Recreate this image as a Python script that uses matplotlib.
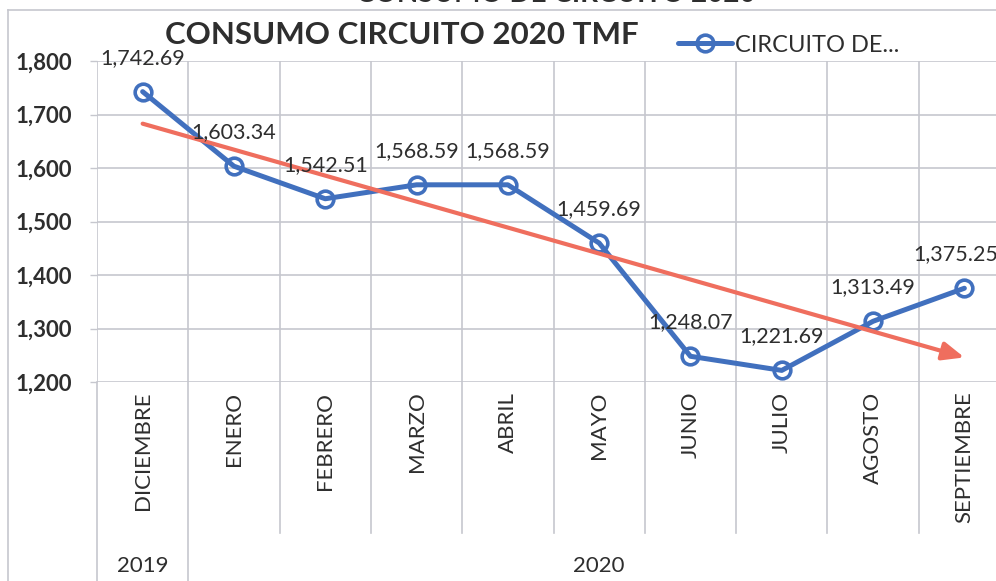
import numpy as np
import matplotlib
matplotlib.use("Agg")
import matplotlib.pyplot as plt
import matplotlib.transforms as mtransforms
from matplotlib.lines import Line2D
from matplotlib.ticker import StrMethodFormatter

plt.rcParams['font.family'] = ['Lato', 'DejaVu Sans']

# data
months = ['DICIEMBRE', 'ENERO', 'FEBRERO', 'MARZO', 'ABRIL', 'MAYO',
          'JUNIO', 'JULIO', 'AGOSTO', 'SEPTIEMBRE']
years = ['2019', '2020']
year_centers = [0, 5]
consumo = [1742.69, 1603.34, 1542.51, 1568.59, 1568.59, 1459.69,
           1248.07, 1221.69, 1313.49, 1375.25]
y_ticks = [1200, 1300, 1400, 1500, 1600, 1700, 1800]

W, H = 996, 581
blue = '#4170BE'
red = '#EF6E5E'
grid_c = '#C6C7CE'
txt = '#2E2E2E'

fig = plt.figure(figsize=(W / 100, H / 100), dpi=100)
ax = fig.add_axes([97 / W, 199 / H, 913 / W, 321 / H])

def ypx(p):
    # pixel row from top -> axes fraction
    return ((H - p) / H - 199 / H) / (321 / H)

x = np.arange(len(months))
line, = ax.plot(x, consumo, color=blue, lw=3.6, marker='o', ms=12,
                mfc='none', mec=blue, mew=2.6, label='CIRCUITO DE...',
                zorder=3, solid_capstyle='round')

# linear trend arrow
k, b = np.polyfit(x, consumo, 1)
ax.annotate('', xy=(x[-1], k * x[-1] + b), xytext=(x[0], k * x[0] + b),
            arrowprops=dict(arrowstyle='-|>,head_length=1.3,head_width=0.55',
                            color=red, lw=3, shrinkA=0, shrinkB=0),
            zorder=4)

for i, v in enumerate(consumo):
    # last label pushed a bit left, like the original chart does at the edge
    dx = -6 if i == len(consumo) - 1 else 0
    ax.annotate(f'{v:,.2f}', (i, v), xytext=(dx, 24.5), textcoords='offset points',
                ha='center', va='center', fontsize=15.5, color=txt, zorder=5)

ax.set_xlim(-0.5, len(months) - 0.5)
ax.set_ylim(1200, 1800)
ax.set_yticks(y_ticks)
ax.yaxis.set_major_formatter(StrMethodFormatter('{x:,.0f}'))
ax.set_xticks(x, months, rotation=90)
ax.tick_params(axis='x', length=0, pad=7, labelsize=16, labelcolor=txt)
ax.tick_params(axis='y', length=5, width=1, color=grid_c, pad=13,
               labelsize=16, labelcolor=txt)
for t in ax.get_yticklabels():
    t.set_fontweight('bold')
ax.yaxis.grid(True, color=grid_c, lw=1.2)
ax.set_axisbelow(True)
for s in ax.spines.values():
    s.set_visible(False)

# category separators, inside and below the plot
bounds = np.arange(len(months) + 1) - 0.5
ax.vlines(bounds, 1200, 1800, color=grid_c, lw=1.2, zorder=1)
trans = mtransforms.blended_transform_factory(ax.transData, ax.transAxes)
for bd in bounds:
    bottom = ypx(H) if bd in (-0.5, 0.5) else ypx(533)
    ax.plot([bd, bd], [0, bottom], transform=trans, color=grid_c, lw=1.2,
            clip_on=False)

for lab, c in zip(years, year_centers):
    ax.text(c, ypx(566), lab, transform=trans, ha='center', va='center',
            fontsize=16, color=txt)

# outer frame
fig.add_artist(Line2D([8 / W, 1], [(H - 10) / H] * 2, color=grid_c, lw=1.2))
fig.add_artist(Line2D([8 / W] * 2, [0, (H - 10) / H], color=grid_c, lw=1.2))

# titles
fig.text(556 / W, (H - 2) / H, 'CONSUMO DE CIRCUITO 2020', ha='center',
         va='baseline', fontsize=20, fontweight='bold', color=txt)
fig.text(402 / W, (H - 35) / H, 'CONSUMO CIRCUITO 2020 TMF', ha='center',
         va='center', fontsize=22.5, fontweight='bold', color=txt)

fig.legend(handles=[line], loc='center left',
           bbox_to_anchor=(678 / W, (H - 45) / H), frameon=False,
           fontsize=17, handlelength=2.3, handletextpad=0.1, borderpad=0,
           borderaxespad=0, numpoints=1, labelcolor=txt)

fig.savefig('out.png', dpi=100)
